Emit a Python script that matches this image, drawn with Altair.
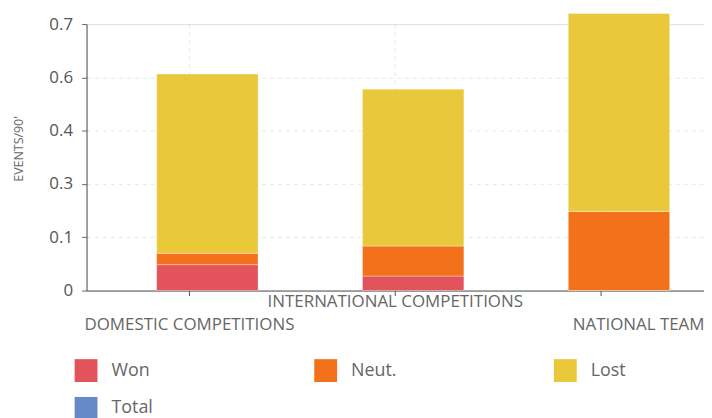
import altair as alt
import pandas as pd

categories = ["DOMESTIC COMPETITIONS", "INTERNATIONAL COMPETITIONS", "NATIONAL TEAM"]
series = ["Won", "Neut.", "Lost", "Total"]
colors = ["#E3535B", "#F2711A", "#E9C93A", "#6889C7"]

won = [0.068, 0.038, 0.0]
neut = [0.030, 0.079, 0.208]
lost = [0.471, 0.412, 0.520]

y_ticks = [0, 0.14, 0.28, 0.42, 0.56, 0.70]

rows = []
for i, c in enumerate(categories):
    for k, (s, vals) in enumerate([("Won", won), ("Neut.", neut), ("Lost", lost)]):
        rows.append({"cat": c, "series": s, "value": vals[i], "ord": k})
df = pd.DataFrame(rows)

FONT = "Open Sans"

chart = alt.Chart(df).mark_bar(
    size=102, xOffset=18, stroke="white", strokeWidth=1, strokeOpacity=0.35
).encode(
    x=alt.X(
        "cat:N",
        sort=categories,
        scale=alt.Scale(paddingInner=0, paddingOuter=0),
        axis=alt.Axis(
            title=None,
            labelAngle=0,
            labelFont=FONT,
            labelFontSize=17,
            labelColor="#666666",
            labelOverlap=False,
            labelBound=False,
            labelLimit=0,
            labelAlign={"condition": {"test": "datum.value === 'NATIONAL TEAM'", "value": "right"}, "value": "center"},
            labelOffset={"condition": {"test": "datum.value === 'NATIONAL TEAM'", "value": 104}, "value": 0},
            labelPadding={"condition": {"test": "datum.value === 'INTERNATIONAL COMPETITIONS'", "value": -1.5}, "value": 21.5},
            tickSize=5,
            tickColor="#555555",
            domainColor="#555555",
            grid=True,
            gridDash=[4, 4],
            gridColor="#e6e6e6",
            bandPosition=0.5,
        ),
    ),
    y=alt.Y(
        "value:Q",
        stack="zero",
        scale=alt.Scale(domain=[0, 0.7], nice=False, zero=True),
        axis=alt.Axis(
            title="EVENTS/90'",
            titleFont=FONT,
            titleFontSize=12.5,
            titleFontWeight="normal",
            titleColor="#666666",
            titleAngle=-90,
            titleX=-68,
            titleY=125,
            titleAlign="center",
            titleBaseline="middle",
            values=y_ticks,
            labelExpr="datum.value == 0 ? '0' : format(datum.value, '.1f')",
            labelFont=FONT,
            labelFontSize=17,
            labelColor="#555555",
            labelPadding=9,
            tickSize=5,
            tickColor="#666666",
            domainColor="#555555",
            gridDash=[4, 4],
            gridColor="#e6e6e6",
        ),
    ),
    color=alt.Color(
        "series:N",
        scale=alt.Scale(domain=series, range=colors),
        legend=alt.Legend(
            title=None,
            orient="none",
            legendX=-12,
            legendY=337,
            direction="horizontal",
            columns=3,
            symbolType="square",
            symbolSize=529,
            symbolStrokeWidth=0,
            symbolOpacity=1,
            labelFont=FONT,
            labelFontSize=18,
            labelColor="#666666",
            labelOffset=14,
            columnPadding=158,
            rowPadding=15,
            gridAlign="all",
            padding=0,
        ),
    ),
    order=alt.Order("ord:Q"),
).properties(
    width=621,
    height=268,
    padding={"left": 79, "top": 15, "right": 0, "bottom": 127},
    autosize=alt.AutoSizeParams(type="none"),
).configure_view(
    stroke="#e6e6e6"
).configure(
    font=FONT
)

chart.save("out.html", embed_options={"renderer": "svg", "actions": False})
